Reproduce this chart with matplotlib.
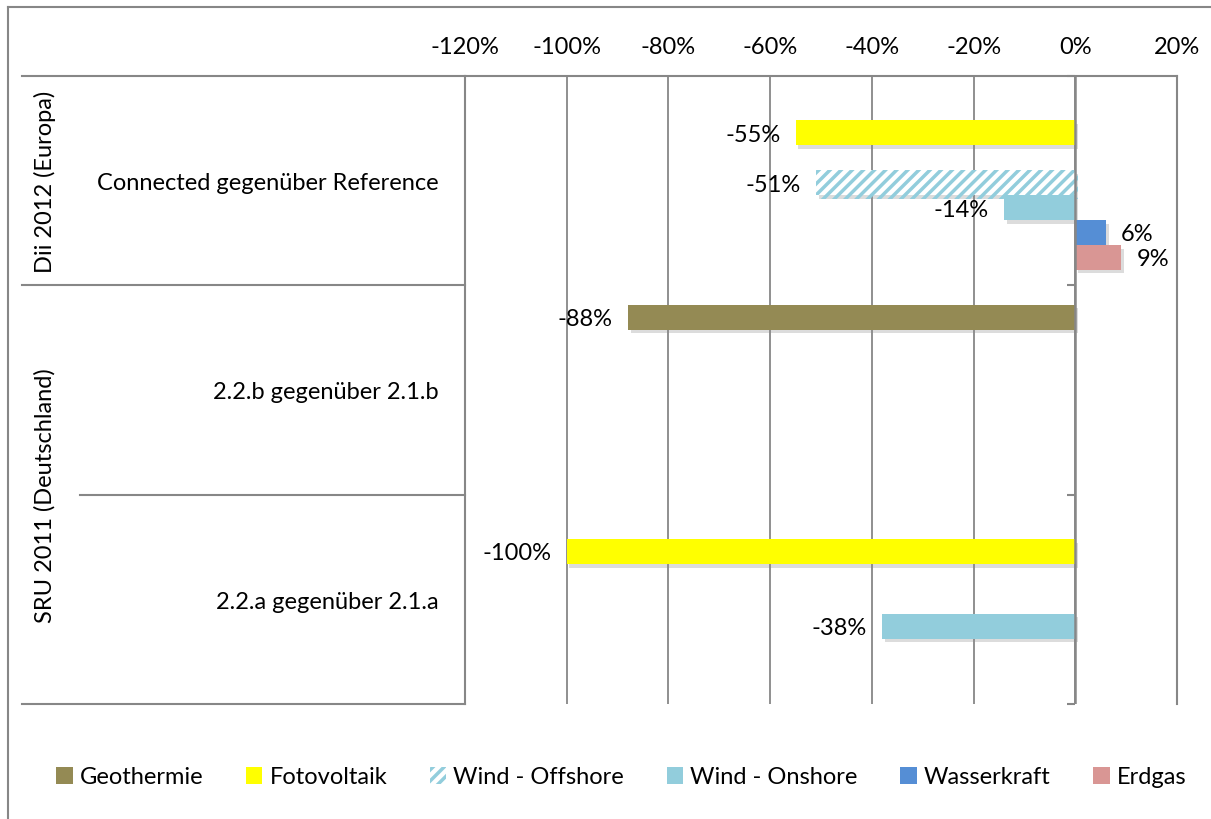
import numpy as np
import matplotlib.pyplot as plt
import matplotlib.patheffects as pe
from matplotlib.lines import Line2D
from matplotlib.patches import Patch
import matplotlib.transforms as mtransforms

plt.rcParams['font.family'] = ['Lato', 'DejaVu Sans']
plt.rcParams['hatch.linewidth'] = 2.5

# -----------------------------------------------
# Data
# -----------------------------------------------
categories = ["Connected gegenüber Reference", "2.2.b gegenüber 2.1.b", "2.2.a gegenüber 2.1.a"]
groups = ["Dii 2012 (Europa)", "SRU 2011 (Deutschland)"]
group_spans = [(0, 1), (1, 3)]  # category index ranges

geothermie = [0.0, -0.88, 0.0]
fotovoltaik = [-0.55, 0.0, -1.00]
leer = [0.0, 0.0, 0.0]  # unnamed series, empty slot in the chart
wind_offshore = [-0.51, 0.0, 0.0]
wind_onshore = [-0.14, 0.0, -0.38]
wasserkraft = [0.06, 0.0, 0.0]
erdgas = [0.09, 0.0, 0.0]

series = [
    ("Geothermie", geothermie, "#948A54", None),
    ("Fotovoltaik", fotovoltaik, "#FFFF00", None),
    (None, leer, "white", None),
    ("Wind - Offshore", wind_offshore, "#92CDDC", "///"),
    ("Wind - Onshore", wind_onshore, "#92CDDC", None),
    ("Wasserkraft", wasserkraft, "#558ED5", None),
    ("Erdgas", erdgas, "#D99694", None),
]

xticks = np.round(np.arange(-1.2, 0.21, 0.2), 2)
line_grey = "#878787"
fs = 17

# -----------------------------------------------
# Figure
# -----------------------------------------------
W, H = 1211, 820
fig = plt.figure(figsize=(W / 100, H / 100), dpi=100)
ax = fig.add_axes([465 / W, 1 - 705 / H, (1177 - 465) / W, (705 - 77) / H])

n_slots = len(series)
slot = 0.119
y_centers = np.arange(len(categories)) + 0.5
shadow = [pe.SimplePatchShadow(offset=(2, -2.5), shadow_rgbFace="#8c8c8c", alpha=0.3), pe.Normal()]

for k, (name, vals, color, hatch) in enumerate(series):
    ypos = y_centers + (k - (n_slots - 1) / 2) * slot + 0.01
    if hatch:
        bars = ax.barh(ypos, vals, height=slot, color="white", edgecolor=color,
                       hatch=hatch, linewidth=0, zorder=3)
    else:
        bars = ax.barh(ypos, vals, height=slot, color=color, linewidth=0, zorder=3)
    if name is None:
        continue
    for b, v in zip(bars, vals):
        if v == 0:
            continue
        b.set_path_effects(shadow)
        ax.annotate(f"{v * 100:.0f}%", (v, b.get_y() + b.get_height() / 2),
                    xytext=(-11 if v < 0 else 11, -1), textcoords="offset points",
                    ha="right" if v < 0 else "left", va="center", fontsize=fs, zorder=5)

ax.set_xlim(-1.2, 0.2)
ax.set_ylim(len(categories), 0)
ax.set_xticks(xticks)
ax.set_xticklabels([f"{t * 100:.0f}%".replace("-0%", "0%") for t in xticks])
ax.xaxis.tick_top()
ax.tick_params(axis="x", length=0, pad=14, labelsize=fs)
ax.grid(axis="x", color=line_grey, linewidth=1.3, zorder=0)

ax.set_yticks(y_centers)
ax.set_yticklabels(categories)
ax.tick_params(axis="y", length=0, pad=19, labelsize=fs)

ax.spines["bottom"].set_visible(False)
for side in ["top", "left", "right"]:
    ax.spines[side].set_color(line_grey)
    ax.spines[side].set_linewidth(1.5)

# zero axis with category ticks
ax.axvline(0, color=line_grey, linewidth=1.8, zorder=4)
ax.hlines(np.arange(len(categories) + 1), -0.016, 0, color=line_grey, linewidth=1.5,
          zorder=4, clip_on=False)

# -----------------------------------------------
# Category table on the left
# -----------------------------------------------
trans = mtransforms.blended_transform_factory(fig.transFigure, ax.transData)
x_left = 22 / W
x_inner = 80 / W
x_axis = 465 / W
for b in range(len(categories) + 1):
    x0 = x_left
    if 0 < b < len(categories) and not any(b == s[0] for s in group_spans):
        x0 = x_inner
    fig.add_artist(Line2D([x0, x_axis], [b, b], transform=trans, color=line_grey, linewidth=1.5))

for g, (s0, s1) in zip(groups, group_spans):
    fig.text(45 / W, (s0 + s1) / 2, g, transform=trans, rotation=90,
             ha="center", va="center", fontsize=fs)

# outer chart frame
fig.add_artist(Line2D([8 / W, 1], [1 - 8 / H, 1 - 8 / H], color=line_grey, linewidth=1.5))
fig.add_artist(Line2D([8 / W, 8 / W], [0, 1 - 8 / H], color=line_grey, linewidth=1.5))

# -----------------------------------------------
# Legend
# -----------------------------------------------
handles = []
labels = []
for name, vals, color, hatch in series:
    if name is None:
        continue
    if hatch:
        handles.append(Patch(facecolor="white", edgecolor=color, hatch=hatch, linewidth=0))
    else:
        handles.append(Patch(facecolor=color, linewidth=0))
    labels.append(name)
fig.legend(handles, labels, loc="center", bbox_to_anchor=(0.513, 1 - 778 / H), ncol=6,
           frameon=False, fontsize=fs, handlelength=0.7, handleheight=0.7,
           handletextpad=0.3, columnspacing=1.8)

fig.savefig("out.png", dpi=100)
